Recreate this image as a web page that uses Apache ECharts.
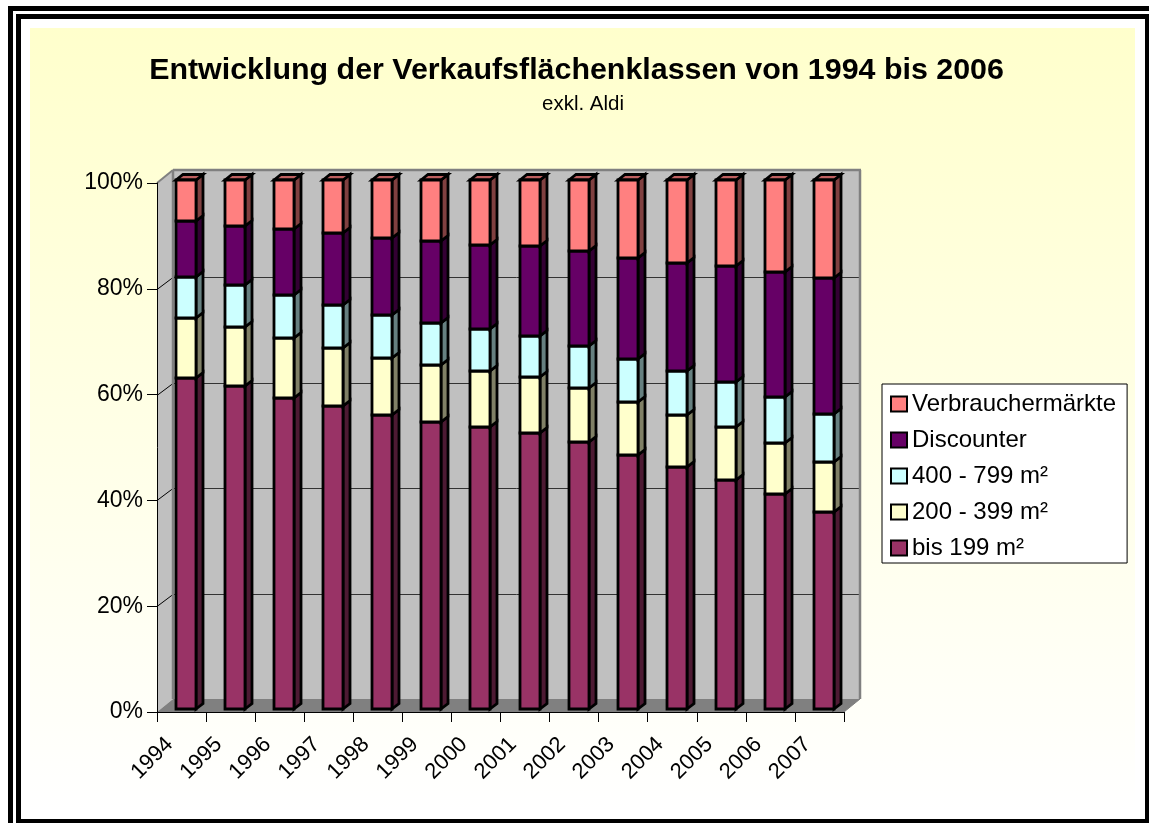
<!DOCTYPE html>
<html>
<head>
<meta charset="utf-8">
<style>
  html, body { margin: 0; padding: 0; background: #fff; }
  #chart { width: 1149px; height: 823px; }
</style>
<script src="https://cdn.jsdelivr.net/npm/echarts@6/dist/echarts.min.js"></script>
</head>
<body>
<div id="chart"></div>
<script>
const years = ['1994', '1995', '1996', '1997', '1998', '1999', '2000', '2001', '2002', '2003', '2004', '2005', '2006', '2007'];

// shares in percent
const bis199 = [62.5, 61.0, 58.7, 57.2, 55.5, 54.2, 53.2, 52.1, 50.4, 47.9, 45.7, 43.2, 40.6, 37.2];
const m200 = [11.3, 11.1, 11.3, 10.9, 10.7, 10.7, 10.6, 10.5, 10.2, 10.0, 9.8, 10.0, 9.6, 9.4];
const m400 = [7.7, 7.9, 8.1, 8.1, 8.1, 7.9, 7.9, 7.8, 7.9, 8.1, 8.3, 8.5, 8.7, 9.1];
const discounter = [10.6, 11.3, 12.5, 13.6, 14.7, 15.5, 16.0, 17.0, 17.9, 19.1, 20.5, 21.9, 23.7, 25.6];
const verbraucher = [7.9, 8.7, 9.4, 10.2, 11.0, 11.7, 12.3, 12.6, 13.6, 14.9, 15.7, 16.4, 17.4, 18.7];

const gridTicks = [20, 40, 60, 80];

const classes = [
  { name: 'bis 199 m²', values: bis199, color: '#993366', side: '#4d1a33', top: '#732650' },
  { name: '200 - 399 m²', values: m200, color: '#ffffcc', side: '#808066', top: '#bfbf99' },
  { name: '400 - 799 m²', values: m400, color: '#ccffff', side: '#668080', top: '#99bfbf' },
  { name: 'Discounter', values: discounter, color: '#660066', side: '#330033', top: '#4d004d' },
  { name: 'Verbrauchermärkte', values: verbraucher, color: '#ff8080', side: '#804040', top: '#bf6060' }
];

const FONT = '"Liberation Sans", Arial, sans-serif';

// 3d look of the excel chart
const wallDx = 16;
const wallDy = -13;
const barShift = 4.5;
const barLift = -3.5;
const barDx = 7;
const barDy = -5.5;
const barWidth = 20;
const barStroke = 2.8;

function poly(points, fill, stroke, lineWidth) {
  return {
    type: 'polygon',
    shape: { points: points },
    style: { fill: fill, stroke: stroke || null, lineWidth: lineWidth || 0 }
  };
}

function line(x1, y1, x2, y2, color, width) {
  return {
    type: 'line',
    shape: { x1: x1, y1: y1, x2: x2, y2: y2 },
    style: { stroke: color, lineWidth: width, fill: null }
  };
}

function renderWalls(params, api) {
  const cs = params.coordSys;
  const l = cs.x, r = cs.x + cs.width, t = cs.y, b = cs.y + cs.height;
  const children = [
    poly([[l + wallDx, t + wallDy], [r + wallDx, t + wallDy], [r + wallDx, b + wallDy], [l + wallDx, b + wallDy]], '#c0c0c0'),
    poly([[l, t], [l + wallDx, t + wallDy], [l + wallDx, b + wallDy], [l, b]], '#c0c0c0'),
    poly([[l, b], [l + wallDx, b + wallDy], [r + wallDx, b + wallDy], [r, b]], '#808080')
  ];
  gridTicks.forEach(function (v) {
    const y = Math.round(api.coord([0, v])[1]) + 0.5;
    children.push(line(l, y, l + wallDx, y + wallDy + 1, '#000', 1));
    children.push(line(l + wallDx, y + wallDy + 1, r + wallDx, y + wallDy + 1, '#333', 1));
  });
  children.push(line(l + wallDx, t + wallDy, r + wallDx + 1, t + wallDy, '#808080', 2.5));
  children.push(line(l + wallDx, t + wallDy, l + wallDx, b + wallDy, '#808080', 2.5));
  children.push(line(r + wallDx, t + wallDy, r + wallDx, b + wallDy, '#808080', 2.5));
  children.push(line(l, t, l + wallDx, t + wallDy, '#808080', 2));
  children.push(line(r, b, r + wallDx, b + wallDy, '#808080', 1));
  return { type: 'group', children: children };
}

function makeRenderBar(cls, isTop) {
  return function (params, api) {
    const center = api.coord([api.value(0), 0])[0];
    const x0 = Math.round(center - barWidth / 2 + barShift);
    const x1 = x0 + barWidth;
    const y0 = Math.round(api.coord([0, api.value(1)])[1] + barLift);
    const y1 = Math.round(api.coord([0, api.value(2)])[1] + barLift);
    const children = [
      poly([[x1, y0], [x1 + barDx, y0 + barDy], [x1 + barDx, y1 + barDy], [x1, y1]], cls.side, '#000', barStroke)
    ];
    if (isTop) {
      children.push(poly([[x0, y1], [x0 + barDx, y1 + barDy], [x1 + barDx, y1 + barDy], [x1, y1]], cls.top, '#000', barStroke));
    }
    children.push(poly([[x0, y0], [x1, y0], [x1, y1], [x0, y1]], cls.color, '#000', barStroke));
    return { type: 'group', children: children };
  };
}

const base = years.map(function () { return 0; });
const barSeries = classes.map(function (cls, idx) {
  const data = cls.values.map(function (v, i) {
    const from = base[i];
    base[i] = from + v;
    return [i, from, Math.min(100, from + v)];
  });
  return {
    type: 'custom',
    name: cls.name,
    data: data,
    encode: { x: 0, y: [1, 2] },
    itemStyle: { color: cls.color, borderColor: '#000', borderWidth: 2 },
    renderItem: makeRenderBar(cls, idx === classes.length - 1),
    z: 3 + idx
  };
});

const chart = echarts.init(document.getElementById('chart'), null, { renderer: 'canvas' });

chart.setOption({
  animation: false,
  backgroundColor: '#fff',
  textStyle: { fontFamily: FONT },
  graphic: [
    // yellow panel
    {
      type: 'rect', z: -20, silent: true,
      shape: { x: 30, y: 28, width: 1105, height: 782 },
      style: {
        fill: { type: 'linear', x: 0, y: 0, x2: 0, y2: 1, colorStops: [{ offset: 0, color: '#ffffcc' }, { offset: 1, color: '#ffffff' }] }
      }
    },
    // double frame, cut off at right and bottom like the original
    { type: 'rect', z: -19, silent: true, shape: { x: 8, y: 6, width: 5, height: 817 }, style: { fill: '#000' } },
    { type: 'rect', z: -19, silent: true, shape: { x: 8, y: 6, width: 1141, height: 5 }, style: { fill: '#000' } },
    { type: 'rect', z: -19, silent: true, shape: { x: 16, y: 14, width: 5, height: 809 }, style: { fill: '#000' } },
    { type: 'rect', z: -19, silent: true, shape: { x: 16, y: 14, width: 1133, height: 5 }, style: { fill: '#000' } },
    { type: 'rect', z: -19, silent: true, shape: { x: 1145, y: 14, width: 4, height: 809 }, style: { fill: '#000' } },
    { type: 'rect', z: -19, silent: true, shape: { x: 16, y: 819, width: 1133, height: 4 }, style: { fill: '#000' } }
  ],
  title: [
    {
      text: 'Entwicklung der Verkaufsflächenklassen von 1994 bis 2006',
      left: 571.5, top: 51, textAlign: 'center',
      textStyle: { fontFamily: FONT, fontSize: 30.4, fontWeight: 'bold', color: '#000' }
    },
    {
      text: 'exkl. Aldi',
      left: 578, top: 89, textAlign: 'center',
      textStyle: { fontFamily: FONT, fontSize: 20.5, fontWeight: 'normal', color: '#000' }
    }
  ],
  grid: { left: 157, right: 305, top: 183, bottom: 111 },
  xAxis: {
    type: 'category',
    data: years,
    axisLine: { lineStyle: { color: '#000', width: 1 } },
    axisTick: { show: true, length: 10, lineStyle: { color: '#000' } },
    axisLabel: { rotate: 45, interval: 0, margin: 17, padding: [0, 17, 0, 0], color: '#000', fontFamily: FONT, fontSize: 22 },
    splitLine: { show: false }
  },
  yAxis: {
    type: 'value',
    min: 0,
    max: 100,
    interval: 20,
    axisLine: { show: true, lineStyle: { color: '#000', width: 1 } },
    axisTick: { show: true, length: 10, lineStyle: { color: '#000' } },
    axisLabel: { formatter: '{value}%', margin: 14, padding: [4, 0, 0, 0], color: '#000', fontFamily: FONT, fontSize: 23 },
    splitLine: { show: false }
  },
  legend: {
    orient: 'vertical',
    left: 882,
    top: 384,
    data: classes.map(function (c) { return c.name; }).reverse(),
    selectedMode: false,
    icon: 'rect',
    itemWidth: 16,
    itemHeight: 15,
    itemGap: 12,
    padding: [8, 11, 3, 8],
    backgroundColor: '#fff',
    borderColor: '#000',
    borderWidth: 1,
    textStyle: { fontFamily: FONT, fontSize: 24, color: '#000', lineHeight: 24 }
  },
  series: [
    {
      type: 'custom',
      name: 'walls',
      data: [[0, 0]],
      encode: { x: 0, y: 1 },
      renderItem: renderWalls,
      silent: true,
      z: -5
    }
  ].concat(barSeries)
});

window.addEventListener('resize', function () { chart.resize(); });
</script>
</body>
</html>
